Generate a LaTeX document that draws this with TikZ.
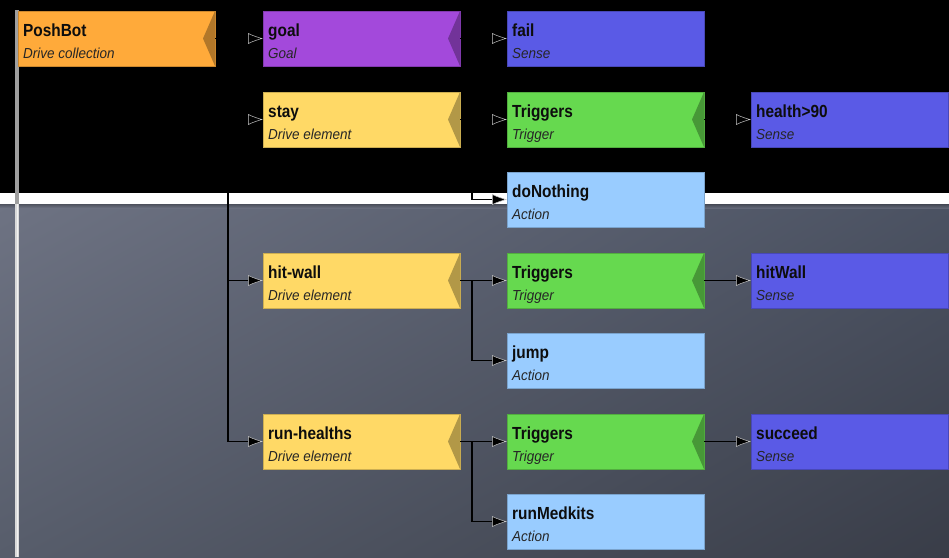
\documentclass[tikz,border=0pt]{standalone}
\usepackage{fontspec}
\setmainfont{Liberation Sans}
\newfontfamily\ttlfont{Liberation Sans}[FakeStretch=0.88]
\newfontfamily\subfont{Liberation Sans}[FakeStretch=0.93]
\usetikzlibrary{arrows.meta,calc,shadings}
\definecolor{cOrange}{HTML}{FFAA3A}
\definecolor{cPurple}{HTML}{A349DB}
\definecolor{cSense}{HTML}{5A5AE6}
\definecolor{cYellow}{HTML}{FFD966}
\definecolor{cGreen}{HTML}{66D94F}
\definecolor{cAction}{HTML}{99CCFF}
\definecolor{bgA}{HTML}{6E7383}
\definecolor{bgB}{HTML}{4B5262}
\definecolor{bgC}{HTML}{575D6B}
\definecolor{bgD}{HTML}{393D48}
\tikzset{
  pbx/.style={rectangle, anchor=north west, minimum width=197pt, minimum height=55pt,
    inner sep=0pt, outer sep=0pt, line width=1pt},
  ttl/.style={anchor=base west, inner sep=0pt, font=\ttlfont\fontsize{17.5}{20}\selectfont\bfseries, text=black!95},
  sub/.style={anchor=base west, inner sep=0pt, font=\subfont\fontsize{14.5}{17}\selectfont\itshape, text=black!85},
  conn/.style={line width=1.4pt, draw=black,
    -{Latex[length=15pt,width=11pt,color=gray!45,fill=black,line width=0.5pt]}},
}
\newcommand\pbox[6]{%
  \node[pbx, fill=#4, draw=#4!80!black] (#1) at (#2,#3) {};
  \node[ttl] at ([shift={(5pt,-25pt)}]#1.north west) {#5};
  \node[sub] at ([shift={(5pt,-47.5pt)}]#1.north west) {#6};}
\newcommand\pnotch[2]{\fill[#2!70!black] (#1.north east) -- ([xshift=-12pt]#1.east) -- (#1.south east) -- cycle;}
\begin{document}
\begin{tikzpicture}[x=1pt,y=-1pt]
\useasboundingbox (0,0) rectangle (949,557);
\clip (0,0) rectangle (949,557);
% background
\fill[black] (0,0) rectangle (949,193);
\fill[white] (0,193) rectangle (949,204);
\shade[upper left=bgA, upper right=bgB, lower left=bgC, lower right=bgD] (0,204) rectangle (949,557);
\shade[top color=black!45!bgA, bottom color=bgA, opacity=0.6] (0,204) rectangle (949,208);
% rail
\fill[gray!75] (15,10) rectangle (19,557);
\fill[gray!30] (15,204) rectangle (19,557);
\fill[white!90!gray] (16.5,204) rectangle (18,557);
% boxes
\pbox{posh}{18}{11}{cOrange}{PoshBot}{Drive collection}
\pnotch{posh}{cOrange}
\pbox{goal}{263}{11}{cPurple}{goal}{Goal}
\pnotch{goal}{cPurple}
\pbox{fail}{507}{11}{cSense}{fail}{Sense}
\pbox{stay}{263}{92}{cYellow}{stay}{Drive element}
\pnotch{stay}{cYellow}
\pbox{trigA}{507}{92}{cGreen}{Triggers}{Trigger}
\pnotch{trigA}{cGreen}
\pbox{health}{751}{92}{cSense}{health>90}{Sense}
\pbox{nothing}{507}{172}{cAction}{doNothing}{Action}
\pbox{hitwall}{263}{253}{cYellow}{hit-wall}{Drive element}
\pnotch{hitwall}{cYellow}
\pbox{trigB}{507}{253}{cGreen}{Triggers}{Trigger}
\pnotch{trigB}{cGreen}
\pbox{hitsense}{751}{253}{cSense}{hitWall}{Sense}
\pbox{jump}{507}{333}{cAction}{jump}{Action}
\pbox{runh}{263}{414}{cYellow}{run-healths}{Drive element}
\pnotch{runh}{cYellow}
\pbox{trigC}{507}{414}{cGreen}{Triggers}{Trigger}
\pnotch{trigC}{cGreen}
\pbox{succeed}{751}{414}{cSense}{succeed}{Sense}
\pbox{medkits}{507}{494}{cAction}{runMedkits}{Action}
% connectors
\draw[conn] (posh.east) -- (goal.west);
\draw[conn] (goal.east) -- (fail.west);
\draw[conn] (posh.east) -- ++(13,0) |- (stay.west);
\draw[conn] (posh.east) -- ++(13,0) |- (hitwall.west);
\draw[conn] (posh.east) -- ++(13,0) |- (runh.west);
\draw[conn] (stay.east) -- (trigA.west);
\draw[conn] (stay.east) -- ++(12,0) |- (nothing.west);
\draw[conn] (trigA.east) -- (health.west);
\draw[conn] (hitwall.east) -- (trigB.west);
\draw[conn] (hitwall.east) -- ++(12,0) |- (jump.west);
\draw[conn] (trigB.east) -- (hitsense.west);
\draw[conn] (runh.east) -- (trigC.west);
\draw[conn] (runh.east) -- ++(12,0) |- (medkits.west);
\draw[conn] (trigC.east) -- (succeed.west);
\end{tikzpicture}
\end{document}
